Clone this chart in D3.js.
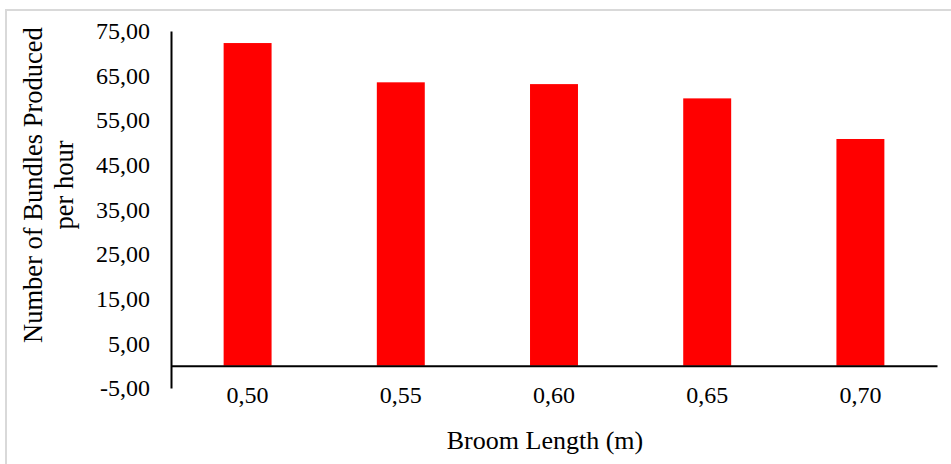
<!DOCTYPE html>
<html>
<head>
<meta charset="utf-8">
<script src="https://cdn.jsdelivr.net/npm/d3@7"></script>
<style>
  html, body { margin: 0; padding: 0; background: #fff; }
  svg { display: block; }
  text { font-family: "Liberation Serif", "Times New Roman", serif; fill: #000; }
</style>
</head>
<body>
<svg id="chart" width="951" height="464"></svg>
<script>
// Broom length (m) categories and bundles produced per hour
const lengths = ["0,50", "0,55", "0,60", "0,65", "0,70"];
const bundlesPerHour = [72.3, 63.5, 63.1, 59.9, 50.8];
const yTicks = [-5, 5, 15, 25, 35, 45, 55, 65, 75];
const yTitleLines = ["Number of Bundles Produced", "per hour"];
const xTitle = "Broom Length (m)";

const svg = d3.select("#chart");
const W = 951, H = 464;

// Comma decimal separator and plain hyphen minus for tick labels
const locale = d3.formatLocale({ decimal: ",", thousands: ".", grouping: [3], currency: ["", ""], minus: "-" });
const fmt = locale.format(".2f");

const plot = { left: 171, right: 937, top: 31, bottom: 388 };

// Chart frame
svg.append("rect")
  .attr("x", 6).attr("y", 10)
  .attr("width", W).attr("height", H)
  .attr("fill", "#fff")
  .attr("stroke", "#d9d9d9")
  .attr("stroke-width", 2);

const x = d3.scaleBand()
  .domain(lengths)
  .range([plot.left, plot.right])
  .paddingInner(0.687)
  .paddingOuter(0.3435);

const y = d3.scaleLinear()
  .domain([-5, 75])
  .range([plot.bottom, plot.top]);

// Bars
svg.append("g")
  .selectAll("rect")
  .data(lengths.map((l, i) => ({ l, v: bundlesPerHour[i] })))
  .join("rect")
  .attr("x", d => x(d.l))
  .attr("width", x.bandwidth())
  .attr("y", d => y(d.v))
  .attr("height", d => y(0) - y(d.v))
  .attr("fill", "#ff0000");

// Y axis
const yAxis = svg.append("g")
  .attr("transform", `translate(${plot.left},0)`)
  .attr("font-family", '"Liberation Serif", serif')
  .call(d3.axisLeft(y).tickValues(yTicks).tickFormat(fmt).tickSize(0).tickPadding(21));
yAxis.select(".domain").attr("stroke", "#000").attr("stroke-width", 2);
yAxis.selectAll("text")
  .style("font-family", '"Liberation Serif", serif')
  .style("font-size", "24px")
  .attr("fill", "#000");

// X axis along the zero line
const xAxis = svg.append("g")
  .attr("transform", `translate(0,${y(0)})`)
  .attr("font-family", '"Liberation Serif", serif')
  .call(d3.axisBottom(x).tickSize(0).tickPadding(20));
xAxis.select(".domain").attr("stroke", "#000").attr("stroke-width", 2);
xAxis.selectAll("text")
  .style("font-family", '"Liberation Serif", serif')
  .style("font-size", "24px")
  .attr("fill", "#000");

// Axis titles
svg.append("text")
  .attr("x", 545).attr("y", 449)
  .attr("text-anchor", "middle")
  .style("font-size", "26px")
  .text(xTitle);

const yTitle = svg.append("text")
  .attr("transform", "translate(42,185) rotate(-90)")
  .attr("text-anchor", "middle")
  .style("font-size", "26.5px");
yTitle.selectAll("tspan")
  .data(yTitleLines)
  .join("tspan")
  .attr("x", 0)
  .attr("y", (d, i) => i * 31)
  .text(d => d);
</script>
</body>
</html>
